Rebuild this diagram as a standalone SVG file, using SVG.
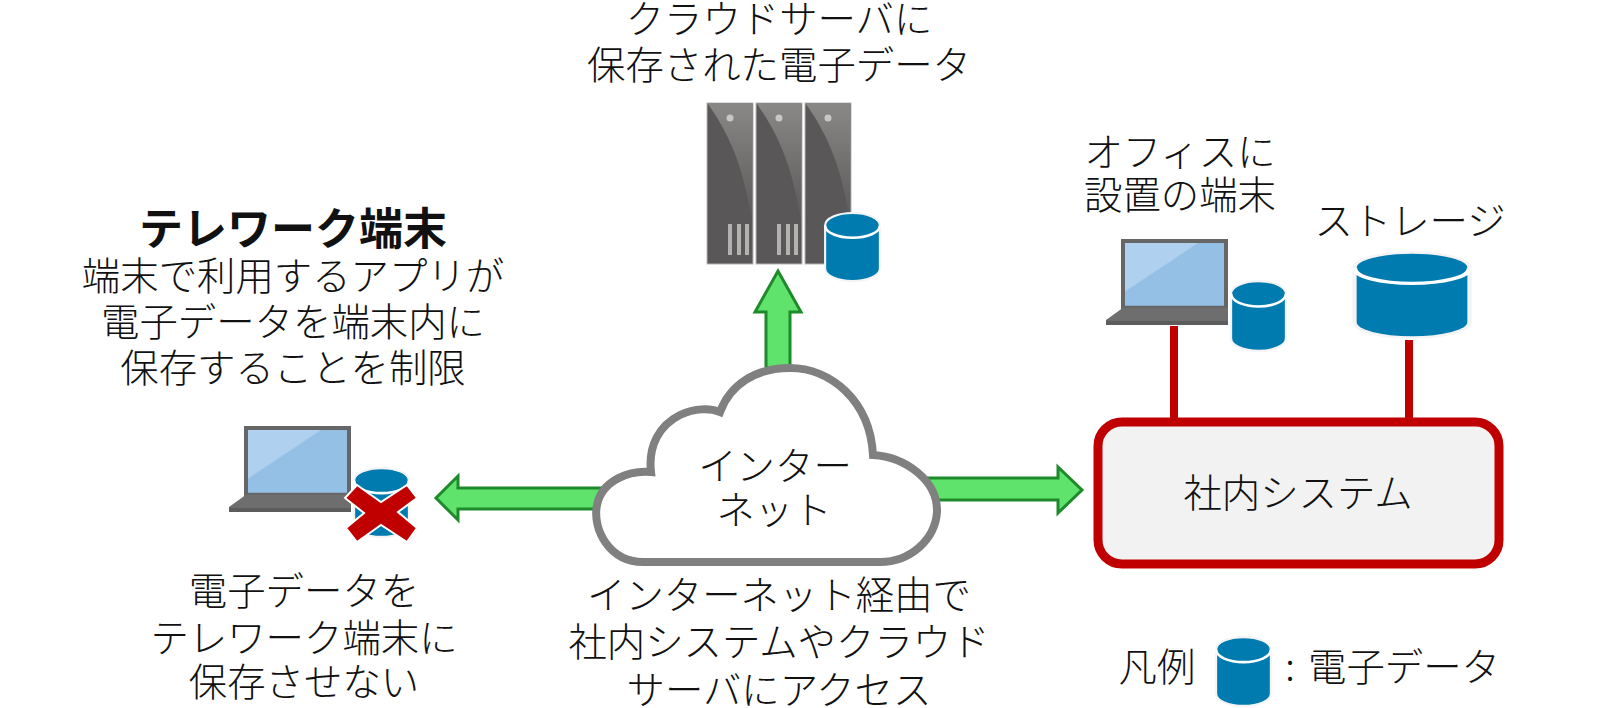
<svg xmlns="http://www.w3.org/2000/svg" xmlns:xlink="http://www.w3.org/1999/xlink" width="1600" height="708" viewBox="0 0 1600 708">
<style>
text{font-family:"Noto Sans CJK JP","Noto Sans",sans-serif;font-size:38.4px;fill:#111;text-anchor:middle;font-weight:300}
.b{font-weight:700;font-size:44px}
.link{stroke:#c00000;stroke-width:8;fill:none}
.arrow{fill:#5fe36c;stroke:#1f8a2c;stroke-width:3}
.sheen{fill:url(#sh)}
.led{fill:#c9c7c5}
.bar{fill:#b4b2b0}
.base{fill:#6e6e6e}
.scr{fill:#94c0e6;stroke:#666;stroke-width:4}
.glare{fill:#b0d0ef}
</style>
<defs>
<linearGradient id="sh" x1="0" y1="0" x2="0" y2="1"><stop offset="0" stop-color="#8a8886"/><stop offset="1" stop-color="#5a5858"/></linearGradient>
<symbol id="cyl" viewBox="0 0 56 70" preserveAspectRatio="none">
<path d="M2 14V56C2 63 14 68 28 68S54 63 54 56V14C54 7 42 2 28 2S2 7 2 14Z" fill="#007bb0" stroke="#f4f4f4" stroke-width="2"/>
<path d="M2 14C2 21 14 26 28 26S54 21 54 14" fill="none" stroke="#fff" stroke-width="2.5"/>
</symbol>
<symbol id="laptop" viewBox="0 0 125 86" preserveAspectRatio="none">
<rect x="17" y="2" width="103" height="66" class="scr"/>
<path d="M19 4H92L19 52Z" class="glare"/>
<path d="M17 68H122V85H0V80Z" class="base"/>
<rect x="0" y="81" width="122" height="4" fill="#5c5c5c"/>
</symbol>
<g id="rack">
<rect x="0" y="0" width="46" height="161" fill="#595757" stroke="#b8b8b8"/>
<path d="M1 1H45V120C38 70 25 35 1 1Z" class="sheen"/>
<circle cx="23" cy="15" r="3.5" class="led"/>
<rect x="21" y="121" width="4" height="31" class="bar"/><rect x="30" y="121" width="4" height="31" class="bar"/><rect x="38" y="121" width="4" height="31" class="bar"/>
</g>
</defs>
<rect width="1600" height="708" fill="#fff"/>

<g id="connectors">
<path class="arrow" d="M766 368V312H755L778 271L801 312H790V368Z"/>
<path class="arrow" d="M605 488V509H458V520L436 498L458 476V488Z"/>
<path class="arrow" d="M925 478H1058V467L1082 490L1058 513V500H925Z"/>
<line class="link" x1="1174" y1="326" x2="1174" y2="421"/>
<line class="link" x1="1409" y1="340" x2="1409" y2="421"/>
</g>

<g id="cloud-server">
<use xlink:href="#rack" href="#rack" x="707" y="103"/>
<use xlink:href="#rack" href="#rack" x="756" y="103"/>
<use xlink:href="#rack" href="#rack" x="805" y="103"/>
<use href="#cyl" x="823" y="211" width="59" height="72"/>
<text x="779" y="33">クラウドサーバに</text>
<text x="779" y="79">保存された電子データ</text>
</g>

<g id="telework">
<use href="#laptop" x="229" y="426" width="125" height="87"/>
<use href="#cyl" x="352" y="466" width="59" height="73"/>
<path d="M345 498L357 485L381 502L407 485L417 498L398 512L417 528L407 542L381 525L357 542L346 528L364 513Z" fill="#c00000" stroke="#fff" stroke-width="2"/>
<text class="b" x="293" y="245">テレワーク端末</text>
<text x="293" y="290">端末で利用するアプリが</text>
<text x="293" y="336">電子データを端末内に</text>
<text x="293" y="382">保存することを制限</text>
<text x="304" y="605">電子データを</text>
<text x="304" y="652">テレワーク端末に</text>
<text x="304" y="696">保存させない</text>
</g>

<g id="internet">
<path d="M643 562C610 562 592 530 597 505C602 480 630 470 651 472C648 445 660 425 680 415C695 408 710 408 720 412C730 385 755 368 790 368C830 368 870 400 873 455C905 457 938 480 937 512C935 540 910 562 880 562Z" fill="#fff" stroke="#808080" stroke-width="8"/>
<text x="775" y="480">インター</text>
<text x="774" y="524">ネット</text>
<text x="779" y="609">インターネット経由で</text>
<text x="779" y="656">社内システムやクラウド</text>
<text x="779" y="704">サーバにアクセス</text>
</g>

<g id="office">
<use href="#laptop" x="1106" y="239" width="125" height="87"/>
<use href="#cyl" x="1229" y="279" width="59" height="74"/>
<text x="1180" y="166">オフィスに</text>
<text x="1180" y="209">設置の端末</text>
</g>

<g id="storage">
<use href="#cyl" x="1350" y="250" width="124" height="90"/>
<text x="1410" y="235">ストレージ</text>
</g>

<g id="system">
<rect x="1098" y="422" width="401" height="142" rx="24" fill="#f2f2f2" stroke="#c00000" stroke-width="9"/>
<text x="1298" y="507">社内システム</text>
</g>

<g id="legend">
<use href="#cyl" x="1214" y="635" width="59" height="73"/>
<text x="1157" y="681">凡例</text>
<text x="1290" y="681">:</text>
<text x="1404" y="681">電子データ</text>
</g>
</svg>
